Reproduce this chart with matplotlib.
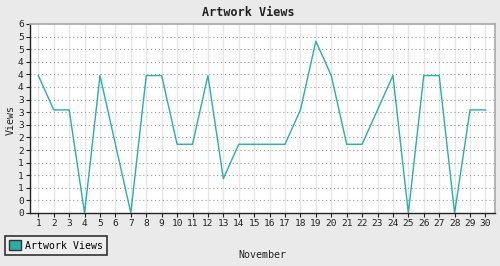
import matplotlib
matplotlib.use("Agg")
from matplotlib import pyplot as plt
from matplotlib.patches import Patch
from matplotlib.ticker import FuncFormatter
import numpy as np

# data
days = list(range(1, 31))
views = [4, 3, 3, 0, 4, 2, 0, 4, 4, 2, 2, 4, 1, 2, 2, 2, 2, 3, 5, 4,
         2, 2, 3, 4, 0, 4, 4, 0, 3, 3]
series_name = "Artwork Views"
chart_title = "Artwork Views"
x_title = "November"
y_title = "Views"
y_max = 5.5

teal = "#29aea9"
bg = "#eaeaea"
mono = "DejaVu Sans Mono"

fig = plt.figure(figsize=(5, 2.66), dpi=100, facecolor=bg)
ax = fig.add_axes([30/500, 1 - 213/266, 465/500, 189/266])
ax.set_facecolor("white")

ax.plot(days, views, color=teal, linewidth=1.0, zorder=3)

ax.set_xlim(0.46, 30.62)
ax.set_ylim(0, y_max)
ax.set_xticks(days)
ax.set_yticks(np.linspace(0, y_max, 16))
ax.yaxis.set_major_formatter(FuncFormatter(lambda v, p: str(int(v + 0.5))))

# grid: light solid verticals, grey dotted horizontals
for d in days:
    ax.axvline(d, color="#e6e6e6", linewidth=1.0, zorder=1)
for v in np.linspace(0, y_max, 16)[1:-1]:
    ax.axhline(v, color="#9a9a9a", linewidth=0.8, linestyle=(0, (1, 2.5)), zorder=2)

for side in ["top", "right"]:
    ax.spines[side].set_color("#a8a8a8")
    ax.spines[side].set_linewidth(1.2)
for side in ["left", "bottom"]:
    ax.spines[side].set_color("#222222")
    ax.spines[side].set_linewidth(1.0)

ax.tick_params(axis="both", length=3, width=0.8, color="#222222",
               labelsize=6.8, pad=1.5)
for lab in ax.get_xticklabels() + ax.get_yticklabels():
    lab.set_family(mono)
    lab.set_color("#222222")

fig.text(0.497, 1 - 12/266, chart_title, ha="center", va="center",
         family=mono, fontweight="bold", fontsize=8.5, color="#222222")
fig.text(11/500, 1 - 120/266, y_title, ha="center", va="center", rotation=90,
         family=mono, fontsize=7.2, color="#222222")
fig.text(262/500, 1 - 255/266, x_title, ha="center", va="center",
         family=mono, fontsize=7.2, color="#222222")

handle = Patch(facecolor=teal, edgecolor="#333333", linewidth=1.0)
leg = fig.legend([handle], [series_name], loc="lower left",
                 bbox_to_anchor=(5/500, 11/266), borderaxespad=0,
                 prop={"family": mono, "size": 7.1}, fancybox=False,
                 handlelength=1.15, handleheight=1.15, handletextpad=0.4,
                 borderpad=0.45, framealpha=1)
leg.get_frame().set_edgecolor("#333333")
leg.get_frame().set_linewidth(1.2)
leg.get_frame().set_facecolor("#eeeeee")

fig.savefig("out.png", dpi=100, facecolor=bg)
